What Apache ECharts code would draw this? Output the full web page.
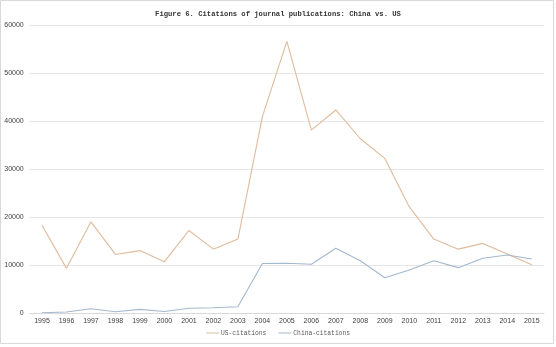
<!DOCTYPE html>
<html>
<head>
<meta charset="utf-8">
<script src="https://cdn.jsdelivr.net/npm/echarts@6/dist/echarts.min.js"></script>
<style>
  html, body { margin: 0; padding: 0; background: #fff; }
  #chart { width: 556px; height: 347px; }
</style>
</head>
<body>
<div id="chart"></div>
<script>
// Citations of journal publications by year
const years = ['1995','1996','1997','1998','1999','2000','2001','2002','2003','2004','2005',
               '2006','2007','2008','2009','2010','2011','2012','2013','2014','2015'];
const usCitations = [18300, 9300, 19000, 12200, 13000, 10700, 17200, 13300, 15400, 40900, 56600,
                     38100, 42300, 36300, 32200, 22100, 15400, 13300, 14500, 12300, 10050];
const chinaCitations = [50, 200, 900, 250, 750, 300, 1000, 1100, 1300, 10300, 10350,
                        10150, 13500, 10900, 7350, 8950, 10900, 9450, 11400, 12100, 11250];
const yTicks = { min: 0, max: 60000, interval: 10000 };

const chart = echarts.init(document.getElementById('chart'), null, { renderer: 'canvas' });
const monoFont = '"Liberation Mono", "DejaVu Sans Mono", monospace';

chart.setOption({
  backgroundColor: '#ffffff',
  animation: false,
  title: {
    text: 'Figure 6. Citations of journal publications: China vs. US',
    left: 'center',
    top: 6,
    textStyle: { fontFamily: monoFont, fontSize: 7.2, fontWeight: 'bold', color: '#333333' }
  },
  legend: {
    bottom: 6,
    left: 'center',
    itemWidth: 13,
    itemHeight: 1,
    itemGap: 12,
    icon: 'rect',
    textStyle: { fontFamily: monoFont, fontSize: 6.3, color: '#595959', padding: [0, 0, 0, -3] },
    data: ['US-citations', 'China-citations']
  },
  grid: { left: 29.75, right: 12, top: 25, bottom: 34, containLabel: false },
  xAxis: {
    type: 'category',
    data: years,
    boundaryGap: true,
    axisLine: { lineStyle: { color: '#d9d9d9', width: 1 } },
    axisTick: { show: false },
    axisLabel: { fontFamily: '"Liberation Sans", Arial, sans-serif', fontSize: 7, color: '#404040', margin: 5 }
  },
  yAxis: {
    type: 'value',
    min: yTicks.min,
    max: yTicks.max,
    interval: yTicks.interval,
    axisLine: { show: false },
    axisTick: { show: false },
    splitLine: { lineStyle: { color: '#e6e6e6', width: 1 } },
    axisLabel: {
      fontFamily: '"Liberation Sans", Arial, sans-serif', fontSize: 7, color: '#404040', margin: 6,
      formatter: v => String(v)
    }
  },
  series: [
    {
      name: 'US-citations',
      type: 'line',
      data: usCitations,
      symbol: 'none',
      lineStyle: { color: '#e0bb9c', width: 1.1 },
      itemStyle: { color: '#e0bb9c' }
    },
    {
      name: 'China-citations',
      type: 'line',
      data: chinaCitations,
      symbol: 'none',
      lineStyle: { color: '#a4b8cf', width: 1.1 },
      itemStyle: { color: '#a4b8cf' }
    }
  ],
  graphic: [
    {
      type: 'rect',
      shape: { x: 0.5, y: 0.5, width: 553, height: 343 },
      style: { fill: 'none', stroke: '#d9d9d9', lineWidth: 1 },
      silent: true
    }
  ]
});
</script>
</body>
</html>
